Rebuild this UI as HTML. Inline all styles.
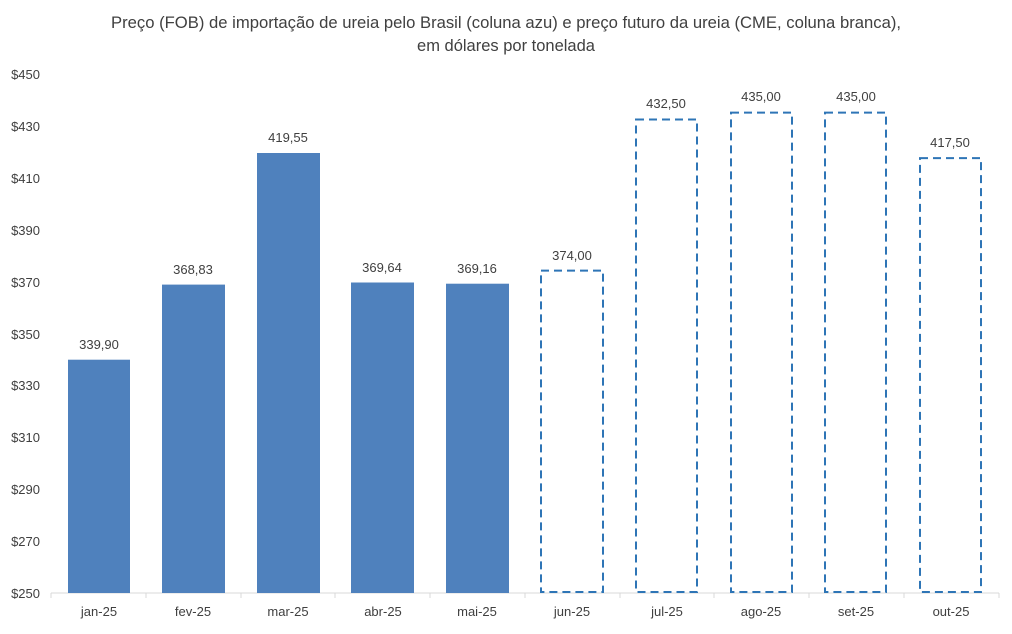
<!DOCTYPE html>
<html><head><meta charset="utf-8"><style>
body{margin:0;background:#fff;}
svg text{font-family:"Liberation Sans",sans-serif;fill:#404040;}
</style></head><body>
<svg width="1012" height="629" xmlns="http://www.w3.org/2000/svg">
<text x="506" y="28" font-size="16.5" text-anchor="middle" textLength="790" lengthAdjust="spacingAndGlyphs">Preço (FOB) de importação de ureia pelo Brasil (coluna azu) e preço futuro da ureia (CME, coluna branca),</text>
<text x="506" y="51" font-size="16.5" text-anchor="middle">em dólares por tonelada</text>
<g font-size="13" text-anchor="end">
<text x="40" y="79">$450</text><text x="40" y="131">$430</text><text x="40" y="183">$410</text>
<text x="40" y="235">$390</text><text x="40" y="287">$370</text><text x="40" y="339">$350</text>
<text x="40" y="390">$330</text><text x="40" y="442">$310</text><text x="40" y="494">$290</text>
<text x="40" y="546">$270</text><text x="40" y="598">$250</text>
</g>
<line x1="51" y1="593" x2="999" y2="593" stroke="#d9d9d9" stroke-width="1"/>
<g stroke="#d9d9d9">
<line x1="51" y1="593" x2="51" y2="598"/><line x1="146" y1="593" x2="146" y2="598"/>
<line x1="241" y1="593" x2="241" y2="598"/><line x1="335" y1="593" x2="335" y2="598"/>
<line x1="430" y1="593" x2="430" y2="598"/><line x1="525" y1="593" x2="525" y2="598"/>
<line x1="620" y1="593" x2="620" y2="598"/><line x1="714" y1="593" x2="714" y2="598"/>
<line x1="809" y1="593" x2="809" y2="598"/><line x1="904" y1="593" x2="904" y2="598"/>
<line x1="999" y1="593" x2="999" y2="598"/>
</g>
<g fill="#4f81bd">
<rect x="68" y="359.7" width="62" height="233.3"/>
<rect x="162" y="284.6" width="63" height="308.4"/>
<rect x="257" y="153" width="63" height="440"/>
<rect x="351" y="282.5" width="63" height="310.5"/>
<rect x="446" y="283.7" width="63" height="309.3"/>
</g>
<g fill="none" stroke="#2e75b6" stroke-width="2" stroke-dasharray="8,5">
<rect x="541" y="270.6" width="62" height="321.4"/>
<rect x="636" y="119.5" width="61" height="472.5"/>
<rect x="731" y="112.6" width="61" height="479.4"/>
<rect x="825" y="112.6" width="61" height="479.4"/>
<rect x="920" y="158.1" width="61" height="433.9"/>
</g>
<g font-size="13" text-anchor="middle">
<text x="99" y="349">339,90</text><text x="193" y="274">368,83</text>
<text x="288" y="142">419,55</text><text x="382" y="272">369,64</text>
<text x="477" y="273">369,16</text><text x="572" y="260">374,00</text>
<text x="666" y="108">432,50</text><text x="761" y="101">435,00</text>
<text x="856" y="101">435,00</text><text x="950" y="147">417,50</text>
</g>
<g font-size="13" text-anchor="middle">
<text x="99" y="616">jan-25</text><text x="193" y="616">fev-25</text>
<text x="288" y="616">mar-25</text><text x="383" y="616">abr-25</text>
<text x="477" y="616">mai-25</text><text x="572" y="616">jun-25</text>
<text x="667" y="616">jul-25</text><text x="761" y="616">ago-25</text>
<text x="856" y="616">set-25</text><text x="951" y="616">out-25</text>
</g>
</svg>
</body></html>
